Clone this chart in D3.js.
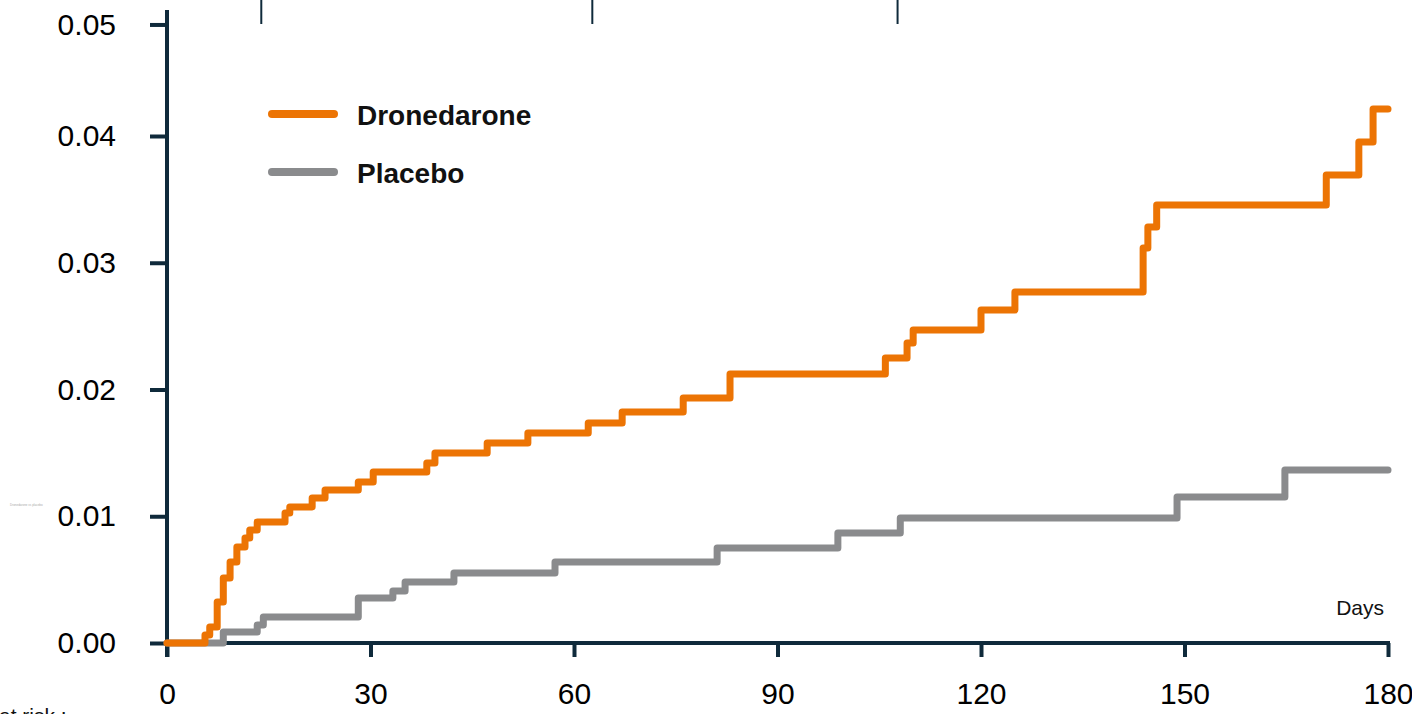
<!DOCTYPE html>
<html>
<head>
<meta charset="utf-8">
<script src="https://cdn.jsdelivr.net/npm/d3@7"></script>
<style>
  html, body { margin: 0; padding: 0; background: #fff; overflow: hidden; }
  svg { display: block; font-family: "Liberation Sans", Arial, sans-serif; }
</style>
</head>
<body>
<div id="chart"></div>
<script>
// cumulative incidence step data (day of step, new level)
const dronedaroneDays = [0, 5.6, 6.3, 7.4, 8.3, 9.3, 10.3, 11.5, 12.2, 13.3, 17.4, 18.1, 21.4, 23.3, 28.2, 30.4,
  38.3, 39.5, 47.2, 53.2, 62.1, 67.1, 76.1, 83.0, 105.9, 109.1, 110.0, 120.0, 125.0, 143.9, 144.6, 145.9,
  170.9, 175.7, 177.8, 180];
const dronedaroneRisk = [0, 0.00063, 0.00126, 0.00323, 0.00513, 0.00639, 0.00757, 0.00828, 0.00892, 0.00955,
  0.01026, 0.01073, 0.01144, 0.01207, 0.01270, 0.01349, 0.01420, 0.01499, 0.01578, 0.01657, 0.01736, 0.01822,
  0.01933, 0.02122, 0.02249, 0.02367, 0.02469, 0.02627, 0.02769, 0.03116, 0.03282, 0.03456, 0.03692, 0.03953,
  0.04213, 0.04213];

const placeboDays = [0, 8.3, 13.3, 14.2, 28.2, 33.3, 35.1, 42.3, 57.2, 81.1, 98.9, 108.1, 148.9, 164.8, 180];
const placeboRisk = [0, 0.00087, 0.00142, 0.00205, 0.00355, 0.00410, 0.00481, 0.00552, 0.00639, 0.00750,
  0.00868, 0.00986, 0.01152, 0.01365, 0.01365];

const seriesNames = ["Dronedarone", "Placebo"];
const seriesColors = ["#ec7404", "#8a8b8d"];

const xTicks = [0, 30, 60, 90, 120, 150, 180];
const yTicks = [0, 0.01, 0.02, 0.03, 0.04];
const yTopLabel = "0.05";
// the short marks at the top edge (remains of the at-risk table), in days
const topMarks = [13.9, 62.7, 107.7];

const width = 1412, height = 714;
const axisColor = "#0f2a3b";

const svg = d3.select("#chart").append("svg")
  .attr("width", width)
  .attr("height", height);

const x = d3.scaleLinear().domain([0, 180]).range([167, 1388]);
const y = d3.scaleLinear().domain([0, 0.04]).range([643, 136]);

// top marks
svg.append("g")
  .selectAll("line")
  .data(topMarks)
  .enter()
  .append("line")
  .attr("x1", d => x(d)).attr("x2", d => x(d))
  .attr("y1", 0).attr("y2", 24)
  .style("stroke", axisColor)
  .style("stroke-width", 2);

// x axis
const xAxis = svg.append("g")
  .attr("transform", `translate(0,${y(0)})`)
  .call(d3.axisBottom(x).tickValues(xTicks).tickSize(14).tickPadding(26).tickSizeOuter(0));
xAxis.select(".domain").attr("d", `M${x(0)},0H${x(180) + 2}`);

// y axis; the source puts its top label a bit below where the scale would put 0.05
const yAxis = svg.append("g")
  .attr("transform", `translate(${x(0)},0)`)
  .call(d3.axisLeft(y).tickValues(yTicks.concat([0.0488]))
    .tickFormat(d => d > 0.045 ? yTopLabel : d3.format(".2f")(d))
    .tickSize(17).tickPadding(34).tickSizeOuter(0));
yAxis.select(".domain").attr("d", `M0,10V${y(0) + 14}`);

svg.selectAll(".domain, .tick line")
  .style("stroke", axisColor)
  .style("stroke-width", 4);
svg.selectAll(".tick text")
  .style("font-size", "30px")
  .style("fill", "#000")
  .style("font-family", "'Liberation Sans', Arial, sans-serif");

// step curves
const line = d3.line()
  .x(d => x(d[0]))
  .y(d => y(d[1]))
  .curve(d3.curveStepAfter);

const series = [
  d3.zip(placeboDays, placeboRisk),
  d3.zip(dronedaroneDays, dronedaroneRisk)
];
const seriesColorOrder = [seriesColors[1], seriesColors[0]];

svg.append("g")
  .selectAll("path")
  .data(series)
  .enter()
  .append("path")
  .attr("d", line)
  .style("fill", "none")
  .style("stroke", (d, i) => seriesColorOrder[i])
  .style("stroke-width", 7)
  .style("stroke-linecap", "round")
  .style("stroke-linejoin", "round");

// legend
const legend = svg.append("g");
seriesNames.forEach((name, i) => {
  const ly = 114 + i * 58;
  legend.append("line")
    .attr("x1", 272).attr("x2", 334)
    .attr("y1", ly).attr("y2", ly)
    .style("stroke", seriesColors[i])
    .style("stroke-width", 8)
    .style("stroke-linecap", "round");
  legend.append("text")
    .attr("x", 357).attr("y", ly + 11)
    .style("font-size", "28px")
    .style("font-weight", "bold")
    .style("fill", "#111")
    .text(name);
});

// "Days" label
svg.append("text")
  .attr("x", 1384).attr("y", 615)
  .attr("text-anchor", "end")
  .style("font-size", "21px")
  .style("fill", "#111")
  .text("Days");

// bottom-left label, cut off by the frame as in the source
svg.append("text")
  .attr("x", -1).attr("y", 723)
  .style("font-size", "21px")
  .style("fill", "#111")
  .text("at  risk :");

// tiny faint note at left
svg.append("text")
  .attr("x", 10).attr("y", 506)
  .style("font-size", "3px")
  .style("fill", "#aaa")
  .text("Dronedarone vs placebo");
</script>
</body>
</html>
